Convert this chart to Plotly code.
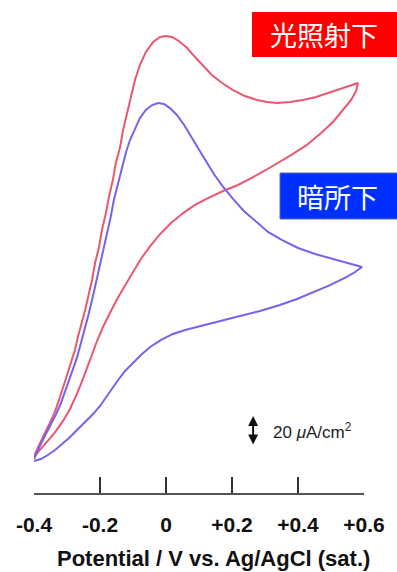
import plotly.graph_objects as go

# Cyclic voltammograms: potential (V vs. Ag/AgCl) and current density (µA/cm²)
# Under illumination: anodic sweep to +0.58 V, then back to -0.4 V
light_potential = [
    -0.400, -0.388, -0.370, -0.352, -0.336, -0.324, -0.312, -0.300, -0.288, -0.276,
    -0.267, -0.255, -0.245, -0.236, -0.224, -0.215, -0.203, -0.194, -0.182, -0.173,
    -0.161, -0.152, -0.139, -0.130, -0.118, -0.106, -0.094, -0.079, -0.061, -0.039,
    -0.018, 0.000, 0.018, 0.039, 0.064, 0.088, 0.112, 0.139, 0.170, 0.203,
    0.239, 0.276, 0.306, 0.336, 0.376, 0.415, 0.455, 0.491, 0.527, 0.558,
    0.582,
    0.576, 0.561, 0.536, 0.506, 0.470, 0.427, 0.385, 0.345, 0.303, 0.264,
    0.218, 0.173, 0.127, 0.088, 0.052, 0.015, -0.018, -0.048, -0.076, -0.100,
    -0.124, -0.148, -0.170, -0.191, -0.209, -0.224, -0.239, -0.255, -0.273, -0.291,
    -0.312, -0.336, -0.361, -0.382, -0.400,
]
light_current = [
    -16.7, -10.7, -2.7, 5.3, 13.3, 20.7, 28.7, 36.7, 45.3, 54.0,
    62.7, 72.0, 80.7, 89.3, 100.7, 112.0, 122.7, 134.0, 145.3, 156.0,
    167.3, 178.7, 189.3, 200.7, 212.0, 222.7, 234.0, 244.0, 252.7, 259.3,
    262.7, 263.3, 262.7, 260.0, 255.3, 249.3, 243.3, 237.3, 232.0, 227.3,
    223.3, 220.7, 219.3, 218.7, 219.3, 220.7, 222.7, 225.3, 228.0, 230.0,
    232.0,
    226.7, 220.7, 214.0, 206.0, 198.7, 190.7, 184.7, 179.3, 174.0, 169.3,
    164.0, 160.0, 155.3, 150.7, 145.3, 138.7, 131.3, 123.3, 114.7, 106.0,
    97.3, 88.0, 78.7, 69.3, 60.0, 50.7, 41.3, 32.7, 23.3, 14.7,
    6.7, -0.7, -7.3, -12.7, -17.3,
]

# In the dark: same sweep
dark_potential = [
    -0.400, -0.391, -0.379, -0.364, -0.348, -0.333, -0.318, -0.306, -0.294, -0.282,
    -0.270, -0.261, -0.248, -0.236, -0.224, -0.212, -0.200, -0.191, -0.179, -0.167,
    -0.158, -0.145, -0.133, -0.121, -0.109, -0.094, -0.079, -0.061, -0.042, -0.024,
    -0.006, 0.012, 0.033, 0.055, 0.076, 0.097, 0.121, 0.145, 0.173, 0.203,
    0.236, 0.273, 0.309, 0.352, 0.400, 0.452, 0.506, 0.552, 0.594,
    0.573, 0.548, 0.497, 0.445, 0.397, 0.345, 0.285, 0.224, 0.164, 0.103,
    0.058, 0.021, -0.015, -0.048, -0.076, -0.100, -0.124, -0.145, -0.164, -0.182,
    -0.200, -0.221, -0.245, -0.270, -0.294, -0.315, -0.336, -0.358, -0.379, -0.400,
]
dark_current = [
    -18.7, -14.0, -8.7, -2.0, 4.7, 11.3, 18.7, 26.0, 33.3, 41.3,
    48.7, 56.0, 66.0, 76.7, 87.3, 98.7, 110.0, 120.7, 132.0, 143.3,
    154.0, 165.3, 176.0, 186.0, 194.0, 202.0, 208.7, 214.0, 217.3, 218.7,
    218.0, 215.3, 210.7, 204.0, 196.7, 188.7, 180.0, 171.3, 162.7, 154.7,
    146.7, 139.3, 132.7, 127.3, 122.0, 118.0, 114.7, 112.0, 109.3,
    106.0, 102.7, 97.3, 92.7, 88.0, 84.0, 80.0, 76.7, 73.3, 70.0,
    67.3, 64.7, 60.7, 56.0, 50.7, 45.3, 40.0, 34.0, 28.0, 22.0,
    16.7, 11.3, 6.0, 0.7, -4.7, -8.7, -12.7, -16.0, -18.7, -20.0,
]

tick_values = [-0.4, -0.2, 0.0, 0.2, 0.4, 0.6]
tick_labels = ["-0.4", "-0.2", "0", "+0.2", "+0.4", "+0.6"]

scale_bar = 20          # µA/cm²
scale_bar_potential = 0.264

LIGHT_COLOR = "rgb(236,86,112)"
DARK_COLOR = "rgb(118,98,238)"
FONT = "Liberation Sans, Arial, sans-serif"
CJK = "Noto Sans CJK JP, Noto Sans CJK SC, sans-serif"

fig = go.Figure()
fig.add_trace(go.Scatter(
    x=light_potential, y=light_current, mode="lines",
    line=dict(color=LIGHT_COLOR, width=2, shape="linear"),
    name="光照射下", showlegend=False,
))
fig.add_trace(go.Scatter(
    x=dark_potential, y=dark_current, mode="lines",
    line=dict(color=DARK_COLOR, width=2, shape="linear"),
    name="暗所下", showlegend=False,
))

# condition labels
fig.add_shape(type="rect", xref="paper", yref="paper",
              x0=0.6606, x1=1.12, y0=0.9027, y1=0.9959,
              fillcolor="#ff0000", line=dict(width=0), layer="above")
fig.add_annotation(xref="paper", yref="paper", x=0.8788, y=0.9493,
                   text="光照射下", showarrow=False,
                   font=dict(family=CJK, size=27, color="white"),
                   xanchor="center", yanchor="middle")
fig.add_shape(type="rect", xref="paper", yref="paper",
              x0=0.7455, x1=1.12, y0=0.5673, y1=0.6625,
              fillcolor="#0030ff", line=dict(width=1, color="#5a6aa0"), layer="above")
fig.add_annotation(xref="paper", yref="paper", x=0.9197, y=0.6149,
                   text="暗所下", showarrow=False,
                   font=dict(family=CJK, size=27, color="white"),
                   xanchor="center", yanchor="middle")

# current scale bar
fig.add_annotation(x=scale_bar_potential, y=scale_bar / 2,
                   ax=scale_bar_potential, ay=-scale_bar / 2,
                   xref="x", yref="y", axref="x", ayref="y",
                   text="", showarrow=True, arrowhead=2, arrowside="end+start",
                   arrowsize=1, arrowwidth=2, arrowcolor="#111")
fig.add_annotation(x=scale_bar_potential + 0.055, y=0, xref="x", yref="y",
                   text=f"{scale_bar} <i>μ</i>A/cm<sup>2</sup>", showarrow=False,
                   xanchor="left", yanchor="middle",
                   font=dict(family=FONT, size=17, color="#222"))

# axis title
fig.add_annotation(xref="paper", yref="paper", x=0.544, y=-0.1346,
                   text="Potential / V vs. Ag/AgCl (sat.)", showarrow=False,
                   xanchor="center", yanchor="middle",
                   font=dict(family=FONT, size=22, color="#111", weight="bold"))

fig.update_layout(
    width=397, height=572,
    margin=dict(l=34, r=33, t=10, b=79, pad=0),
    paper_bgcolor="white", plot_bgcolor="white",
    showlegend=False,
    xaxis=dict(
        range=[-0.4, 0.6], showgrid=False, zeroline=False,
        showline=True, linecolor="#555", linewidth=1.5,
        ticks="inside", ticklen=16, tickwidth=1.5, tickcolor="#333",
        tickvals=tick_values, ticktext=tick_labels,
        tickfont=dict(family=FONT, size=21, color="#111", weight="bold"),
        ticklabelstandoff=12,
    ),
    yaxis=dict(range=[-41.333, 280.667], visible=False),
)

fig.write_html("out.html")
